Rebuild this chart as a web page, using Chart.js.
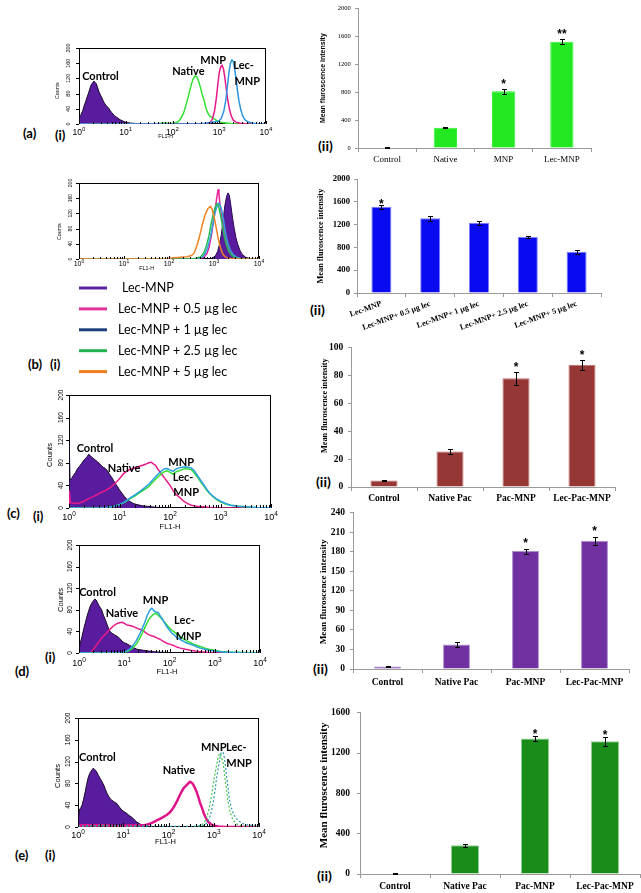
<!DOCTYPE html>
<html><head><meta charset="utf-8">
<script src="https://cdn.jsdelivr.net/npm/chart.js@4.4.1/dist/chart.umd.min.js"></script>
<style>
html,body{margin:0;padding:0;background:#fff;}
body{width:641px;height:893px;position:relative;overflow:hidden;}
canvas{position:absolute;}
.lab{position:absolute;font-family:Lato,"Open Sans",sans-serif;font-weight:bold;font-size:13px;line-height:13px;color:#000;white-space:nowrap;}
</style></head><body>
<div class="lab" style="left:23px;top:127px">(a)</div>
<div class="lab" style="left:55px;top:129px">(i)</div>
<div class="lab" style="left:318px;top:139px;font-size:14px">(ii)</div>
<div class="lab" style="left:28px;top:358px">(b)</div>
<div class="lab" style="left:50px;top:358px">(i)</div>
<div class="lab" style="left:310px;top:303px;font-size:14px">(ii)</div>
<div class="lab" style="left:7px;top:507px">(c)</div>
<div class="lab" style="left:33px;top:510px">(i)</div>
<div class="lab" style="left:316px;top:475px;font-size:14px">(ii)</div>
<div class="lab" style="left:15px;top:665px">(d)</div>
<div class="lab" style="left:45px;top:651px">(i)</div>
<div class="lab" style="left:313px;top:662px;font-size:14px">(ii)</div>
<div class="lab" style="left:15px;top:849px">(e)</div>
<div class="lab" style="left:45px;top:849px">(i)</div>
<div class="lab" style="left:317px;top:869px;font-size:14px">(ii)</div>
<script>
// ---------- axis tick definitions ----------
const DECADE_TICKS = [0, 1, 2, 3, 4];
const LOG_MINOR = [0.301, 0.477, 0.602, 0.699, 0.778, 0.845, 0.903, 0.954];
const COUNT_TICKS = [0, 40, 80, 120, 160, 200];
const HIST_X_TITLE = 'FL1-H';
const HIST_Y_TITLE = 'Counts';
const BAR_Y_TITLE = 'Mean fluroscence intensity';

// ---------- histogram data: [log10(FL1-H), counts] ----------
const A_CONTROL = [[0,0],[0.01,20],[0.04,24],[0.08,35],[0.11,48],[0.14,58],[0.17,70],[0.2,80],[0.23,92],[0.26,103],[0.29,108],[0.32,113],[0.34,110],[0.37,106],[0.4,95],[0.43,84],[0.46,76],[0.49,69],[0.52,60],[0.55,54],[0.58,49],[0.61,45],[0.64,41],[0.67,35],[0.7,30],[0.73,26],[0.76,22],[0.8,18],[0.84,15],[0.88,11],[0.92,9],[0.97,6],[1.02,4],[1.1,2.5],[1.2,1.5],[1.35,0.5],[1.5,0],[4,0]];
const A_NATIVE = [[0,0],[1.6,0],[1.75,2],[1.85,3],[1.95,1],[2.05,3],[2.12,6],[2.18,15],[2.24,30],[2.3,55],[2.35,78],[2.4,103],[2.44,118],[2.48,127],[2.52,124],[2.56,112],[2.6,95],[2.64,76],[2.68,60],[2.72,40],[2.76,28],[2.8,20],[2.85,17],[2.9,13],[2.95,9],[3.0,6],[3.1,3],[3.25,1],[3.4,0],[4,0]];
const A_MNP = [[0,0],[2.75,0],[2.8,3],[2.85,12],[2.9,35],[2.94,70],[2.97,105],[3.0,135],[3.03,150],[3.06,155],[3.09,145],[3.12,122],[3.15,92],[3.18,65],[3.22,38],[3.26,20],[3.3,10],[3.36,5],[3.45,2],[3.6,0],[4,0]];
const A_LECMNP = [[0,0],[2.6,0],[2.7,2],[2.8,4],[2.9,6],[2.98,7],[3.04,14],[3.1,35],[3.14,62],[3.18,105],[3.21,138],[3.24,160],[3.27,169],[3.3,164],[3.33,145],[3.36,118],[3.39,88],[3.42,62],[3.46,38],[3.5,22],[3.55,11],[3.62,5],[3.72,2],[3.85,0],[4,0]];

const B_SERIES = ['Lec-MNP', 'Lec-MNP + 0.5 \u00b5g lec', 'Lec-MNP + 1 \u00b5g lec', 'Lec-MNP + 2.5 \u00b5g lec', 'Lec-MNP + 5 \u00b5g lec'];
const B_LEC = [[0,0],[2.9,0],[2.97,3],[3.03,8],[3.08,20],[3.12,38],[3.16,62],[3.2,100],[3.24,140],[3.28,165],[3.31,174],[3.34,168],[3.37,145],[3.41,110],[3.45,80],[3.49,55],[3.53,38],[3.58,22],[3.63,12],[3.7,5],[3.8,1],[3.9,0],[4,0]];
const B_LEC05 = [[0,0],[2.6,0],[2.7,2],[2.78,5],[2.84,14],[2.89,30],[2.94,60],[2.98,92],[3.02,125],[3.06,160],[3.09,182],[3.11,170],[3.14,137],[3.18,105],[3.22,75],[3.26,50],[3.3,33],[3.35,18],[3.42,8],[3.5,3],[3.6,0],[4,0]];
const B_LEC1 = [[0,0],[2.55,0],[2.65,2],[2.74,5],[2.8,14],[2.86,30],[2.92,58],[2.97,88],[3.02,120],[3.07,140],[3.11,147],[3.15,138],[3.19,118],[3.23,88],[3.27,60],[3.31,40],[3.36,24],[3.42,12],[3.5,5],[3.6,1],[3.7,0],[4,0]];
const B_LEC25 = [[0,0],[2.5,0],[2.6,2],[2.7,5],[2.77,15],[2.83,34],[2.89,62],[2.94,95],[2.99,122],[3.04,140],[3.07,146],[3.11,136],[3.15,112],[3.19,85],[3.23,60],[3.28,36],[3.33,20],[3.4,9],[3.48,3],[3.6,0],[4,0]];
const B_LEC5 = [[0,0],[1.9,0],[2.0,2],[2.1,3],[2.2,4],[2.3,5],[2.4,6],[2.5,9],[2.56,16],[2.62,35],[2.68,60],[2.74,90],[2.8,115],[2.86,132],[2.92,139],[2.96,130],[3.0,112],[3.04,88],[3.08,62],[3.12,40],[3.16,24],[3.2,12],[3.26,5],[3.35,1],[3.45,0],[4,0]];

const C_CONTROL = [[0,0],[0.005,115],[0.02,50],[0.05,52],[0.09,58],[0.13,63],[0.17,70],[0.21,74],[0.25,79],[0.29,84],[0.33,88],[0.36,91],[0.39,95],[0.42,93],[0.45,90],[0.48,88],[0.52,85],[0.56,82],[0.6,79],[0.64,75],[0.68,72],[0.72,70],[0.76,66],[0.8,60],[0.84,55],[0.88,49],[0.92,43],[0.96,38],[1.0,32],[1.05,26],[1.1,20],[1.15,15],[1.2,12],[1.27,8],[1.35,6],[1.45,4],[1.55,3],[1.7,1.5],[1.85,0.5],[2.0,0],[4,0]];
const C_NATIVE = [[0,0],[0.005,30],[0.03,10],[0.1,8],[0.2,9],[0.3,12],[0.4,17],[0.5,21],[0.6,26],[0.7,30],[0.8,35],[0.88,41],[0.95,47],[1.02,54],[1.08,61],[1.14,65],[1.2,68],[1.27,70],[1.34,72],[1.4,74],[1.47,76],[1.53,78],[1.58,80],[1.63,81],[1.67,78],[1.71,76],[1.75,70],[1.8,64],[1.85,58],[1.9,52],[1.95,46],[2.0,40],[2.06,31],[2.12,24],[2.2,18],[2.27,12],[2.34,8],[2.42,5],[2.52,3],[2.65,2],[2.8,1],[2.95,0],[4,0]];
const C_MNP = [[0,0],[0.6,0],[0.75,1],[0.9,3],[1.0,6],[1.1,10],[1.2,16],[1.3,21],[1.4,27],[1.5,33],[1.58,38],[1.66,46],[1.74,53],[1.82,60],[1.88,64],[1.94,66],[2.0,63],[2.06,60],[2.12,64],[2.18,66],[2.24,68],[2.3,70],[2.36,69],[2.42,68],[2.48,62],[2.54,55],[2.6,47],[2.66,40],[2.72,32],[2.78,26],[2.85,20],[2.92,15],[3.0,11],[3.1,7],[3.2,5],[3.35,3],[3.5,2],[3.7,1],[4,0.5]];
const C_LECMNP = [[0,0],[0.6,0],[0.75,1],[0.9,3],[1.0,6],[1.1,11],[1.2,17],[1.3,23],[1.4,29],[1.5,36],[1.58,42],[1.66,50],[1.74,58],[1.82,65],[1.88,69],[1.94,70],[2.0,67],[2.06,65],[2.12,69],[2.18,71],[2.24,72],[2.3,73],[2.36,72],[2.42,71],[2.48,66],[2.54,58],[2.6,50],[2.66,42],[2.72,34],[2.78,27],[2.85,21],[2.92,16],[3.0,12],[3.1,8],[3.2,5],[3.35,3],[3.5,2],[3.7,1],[4,0.5]];

const D_CONTROL = [[0,0],[0.02,0],[0.025,18],[0.06,28],[0.1,43],[0.14,56],[0.17,66],[0.21,77],[0.24,85],[0.28,92],[0.32,97],[0.35,100],[0.38,98],[0.41,93],[0.44,88],[0.47,84],[0.5,80],[0.54,70],[0.58,62],[0.62,53],[0.65,46],[0.69,40],[0.72,37],[0.78,34],[0.84,31],[0.9,27],[0.95,22],[1.0,19],[1.06,17],[1.12,14],[1.17,12],[1.23,9],[1.28,7],[1.35,6],[1.43,5],[1.55,3.5],[1.65,2.5],[1.8,1.5],[1.95,1],[2.2,0],[4,0]];
const D_NATIVE = [[0,0],[0.25,0],[0.28,3],[0.33,8],[0.39,15],[0.45,22],[0.5,28],[0.56,33],[0.61,37],[0.66,42],[0.71,46],[0.76,50],[0.81,53],[0.85,55],[0.9,56],[0.95,57],[1.0,55],[1.06,52],[1.12,51],[1.17,50],[1.23,48],[1.28,46],[1.34,44],[1.39,43],[1.45,39],[1.5,36],[1.54,34],[1.6,32],[1.65,31],[1.72,28],[1.8,25],[1.87,21],[1.94,18],[2.02,16],[2.09,14],[2.16,11],[2.24,9],[2.35,7],[2.46,5],[2.57,3.5],[2.68,2.5],[2.85,1],[3.0,0],[4,0]];
const D_MNP = [[0,0],[0.85,0],[0.95,1],[1.05,4],[1.1,6],[1.15,10],[1.2,15],[1.26,22],[1.32,32],[1.38,42],[1.43,52],[1.47,60],[1.5,68],[1.54,75],[1.57,80],[1.61,83],[1.64,80],[1.67,77],[1.71,76],[1.76,74],[1.8,68],[1.83,65],[1.88,57],[1.94,49],[2.0,42],[2.05,37],[2.09,34],[2.16,29],[2.24,25],[2.32,21],[2.39,18],[2.47,16],[2.54,14],[2.61,11],[2.68,9],[2.78,7],[2.87,5],[3.0,3.5],[3.13,2.5],[3.3,1.5],[3.42,1],[3.6,0.5],[3.8,0],[4,0]];
const D_LECMNP = [[0,0],[0.9,0],[1.0,1],[1.1,4],[1.16,7],[1.22,12],[1.28,18],[1.34,27],[1.4,37],[1.45,46],[1.5,55],[1.55,63],[1.6,68],[1.65,72],[1.7,73],[1.75,70],[1.8,66],[1.86,60],[1.92,54],[1.98,48],[2.04,43],[2.09,40],[2.16,35],[2.24,30],[2.32,26],[2.39,22],[2.47,19],[2.54,16],[2.61,14],[2.68,12],[2.78,9],[2.87,7],[3.0,5],[3.13,3],[3.3,2],[3.5,1.5],[3.7,1],[3.9,0.5],[4,0]];

const E_CONTROL = [[0,0],[0.02,0],[0.025,31],[0.06,35],[0.09,40],[0.12,50],[0.16,65],[0.19,78],[0.23,92],[0.27,100],[0.31,105],[0.34,108],[0.36,106],[0.39,104],[0.42,100],[0.45,95],[0.49,89],[0.53,83],[0.57,77],[0.6,70],[0.64,62],[0.68,56],[0.72,51],[0.75,49],[0.8,46],[0.86,43],[0.91,37],[0.97,31],[1.02,28],[1.08,25],[1.13,21],[1.19,18],[1.25,13],[1.3,9],[1.36,6],[1.41,4],[1.5,2],[1.6,1],[1.8,0],[4,0]];
const E_NATIVE = [[0,0],[0.02,3],[0.3,3],[0.6,3],[0.9,2],[1.2,3],[1.45,3],[1.55,5],[1.62,7],[1.67,9],[1.74,12],[1.81,15],[1.88,18],[1.96,22],[2.02,26],[2.07,31],[2.12,37],[2.18,46],[2.23,55],[2.29,65],[2.34,72],[2.4,77],[2.44,80],[2.47,83],[2.5,82],[2.53,80],[2.57,74],[2.62,65],[2.66,55],[2.69,46],[2.74,35],[2.78,25],[2.83,16],[2.88,9],[2.94,5],[2.99,3],[3.1,1],[3.25,0],[4,0]];
const E_MNP = [[0,0],[2.6,0],[2.69,2],[2.75,5],[2.8,9],[2.84,17],[2.88,28],[2.92,42],[2.95,58],[2.99,78],[3.02,95],[3.06,112],[3.09,126],[3.12,133],[3.14,135],[3.17,128],[3.21,117],[3.24,95],[3.28,71],[3.31,50],[3.35,31],[3.39,20],[3.43,12],[3.5,6],[3.57,3],[3.7,1],[3.8,0],[4,0]];
const E_LECMNP = [[0,2],[0.5,3],[1.0,2],[1.5,2],[2.0,1],[2.5,1],[2.7,2],[2.8,3],[2.86,9],[2.91,18],[2.95,30],[2.99,46],[3.03,68],[3.06,89],[3.1,108],[3.13,123],[3.16,136],[3.18,142],[3.21,136],[3.23,129],[3.26,112],[3.28,95],[3.32,70],[3.35,49],[3.39,35],[3.43,25],[3.48,17],[3.54,12],[3.62,7],[3.72,4],[3.87,3],[4,2]];

// ---------- bar chart data ----------
const A_CATS = ['Control', 'Native', 'MNP', 'Lec-MNP'];
const A_VALUES = [8, 290, 812, 1520];
const A_ERRORS = [3, 9, 33, 38];
const A_SIG = ['', '', '*', '**'];

const B_CATS = ['Lec-MNP', 'Lec-MNP+ 0.5 \u00b5g lec', 'Lec-MNP+ 1 \u00b5g lec', 'Lec-MNP+ 2.5 \u00b5g lec', 'Lec-MNP+ 5 \u00b5g lec'];
const B_VALUES = [1516, 1314, 1233, 986, 726];
const B_ERRORS = [37, 46, 29, 23, 32];
const B_SIG = ['*', '', '', '', ''];

const PAC_CATS = ['Control', 'Native Pac', 'Pac-MNP', 'Lec-Pac-MNP'];
const C_VALUES = [4.6, 25.5, 77.9, 87.5];
const C_ERRORS = [0.5, 2, 4.7, 3.5];
const C_SIG = ['', '', '*', '*'];

const D_VALUES = [4, 37.5, 181, 197];
const D_ERRORS = [1, 4, 4, 6];
const D_SIG = ['', '', '*', '*'];

const E_VALUES = [6, 285, 1344, 1318];
const E_ERRORS = [3, 14, 28, 44];
const E_SIG = ['', '', '*', '*'];

// ---------- helpers ----------
function mk(b){
  const c = document.createElement('canvas');
  c.width = b.w; c.height = b.h;
  c.style.left = b.x + 'px'; c.style.top = b.y + 'px';
  c.style.width = b.w + 'px'; c.style.height = b.h + 'px';
  document.body.appendChild(c);
  return c;
}
const SANS = '"Liberation Sans", Arial, sans-serif';
const SERIF = '"Liberation Serif", "Times New Roman", serif';

function histDecor(s, box){
  return {
    id: 'histDecor',
    beforeDatasetsDraw(chart){
      const {ctx, chartArea: a} = chart;
      ctx.save(); ctx.strokeStyle = '#000'; ctx.lineWidth = 1;
      ctx.strokeRect(a.left + 0.5, a.top + 0.5, a.right - a.left - 1, a.bottom - a.top - 1);
      ctx.restore();
    },
    afterDatasetsDraw(chart){
      const {ctx, chartArea: a, scales: {x, y}} = chart;
      ctx.save();
      ctx.strokeStyle = '#000'; ctx.lineWidth = 1; ctx.beginPath();
      for (let d = 0; d < 4; d++) for (const m of LOG_MINOR){
        const px = Math.round(x.getPixelForValue(d + m)) + 0.5;
        ctx.moveTo(px, a.bottom); ctx.lineTo(px, a.bottom - s.minor);
      }
      for (const d of DECADE_TICKS){
        const px = Math.round(x.getPixelForValue(d)) + 0.5;
        ctx.moveTo(px, a.bottom); ctx.lineTo(px, a.bottom - s.major);
      }
      for (const v of COUNT_TICKS){
        const py = Math.round(y.getPixelForValue(v)) + 0.5;
        ctx.moveTo(a.left, py); ctx.lineTo(a.left - 3, py);
      }
      ctx.stroke();
      ctx.fillStyle = '#000'; ctx.textBaseline = 'middle';
      for (const d of DECADE_TICKS){
        const px = x.getPixelForValue(d), py = a.bottom + s.xLabDy;
        ctx.font = s.tickFont; const w1 = ctx.measureText('10').width;
        ctx.font = s.expFont; const w2 = ctx.measureText(String(d)).width;
        const x0 = px - (w1 + w2) / 2;
        ctx.textAlign = 'left';
        ctx.font = s.tickFont; ctx.fillText('10', x0, py);
        ctx.font = s.expFont; ctx.fillText(String(d), x0 + w1, py - s.expRise);
      }
      ctx.font = s.yFont; ctx.textAlign = 'center';
      for (const v of COUNT_TICKS){
        ctx.save(); ctx.translate(a.left - s.yLabOff, y.getPixelForValue(v)); ctx.rotate(-Math.PI / 2);
        ctx.fillText(String(v), 0, 0); ctx.restore();
      }
      ctx.font = s.titleFont;
      ctx.save(); ctx.translate(a.left + s.yTitle.dx, (a.top + a.bottom) / 2 + s.yTitle.dy); ctx.rotate(-Math.PI / 2);
      ctx.fillText(HIST_Y_TITLE, 0, 0); ctx.restore();
      ctx.fillText(HIST_X_TITLE, a.left + s.xTitle.dx, a.bottom + s.xTitle.dy);
      ctx.font = s.noteFont;
      for (const n of s.notes) ctx.fillText(n.t, x.getPixelForValue(n.x), y.getPixelForValue(n.y));
      if (s.legend){
        const L = s.legend;
        ctx.font = L.font; ctx.textAlign = 'left';
        chart.data.datasets.forEach((ds, i) => {
          const yy = L.y0 - box.y + i * L.dy;
          ctx.strokeStyle = L.colors[i]; ctx.lineWidth = L.lw;
          ctx.beginPath(); ctx.moveTo(L.x0 - box.x, yy); ctx.lineTo(L.x0 - box.x + L.len, yy); ctx.stroke();
          ctx.fillStyle = '#000'; ctx.fillText(ds.label, L.tx - box.x + (i === 0 ? 4 : 0), yy);
        });
      }
      ctx.restore();
    }
  };
}

function histChart(box, plot, datasets, s){
  const yW = plot.L - box.x, padT = plot.T - box.y, padR = box.x + box.w - plot.R, xH = box.y + box.h - plot.B;
  return new Chart(mk(box), {
    type: 'line',
    data: {datasets},
    options: {
      responsive: false, animation: false, events: [],
      layout: {padding: {left: 0, top: padT, right: padR, bottom: 0}},
      plugins: {legend: {display: false}, tooltip: {enabled: false}},
      elements: {point: {radius: 0}, line: {tension: 0, borderJoinStyle: 'round'}},
      scales: {
        x: {type: 'linear', min: 0, max: 4, ticks: {display: false}, grid: {display: false}, border: {display: false}, afterFit: sc => { sc.height = xH; }},
        y: {type: 'linear', min: 0, max: 200, ticks: {display: false, stepSize: 40}, grid: {display: false}, border: {display: false}, afterFit: sc => { sc.width = yW; }}
      }
    },
    plugins: [histDecor(s, box)]
  });
}

function line(label, data, color, o){
  return Object.assign({label, data, borderColor: color, backgroundColor: color, borderWidth: 1.5, fill: false, pointRadius: 0}, o || {});
}
const CONTROL_FILL = '#5a1c9e', CONTROL_EDGE = '#140826';
function controlSet(data, order){
  return {label: 'Control', data, borderColor: CONTROL_EDGE, backgroundColor: CONTROL_FILL, borderWidth: 1, fill: 'origin', pointRadius: 0, order};
}

const SMALL = {tickFont: '7px ' + SANS, expFont: '5px ' + SANS, expRise: 2.5, yFont: '5px ' + SANS, titleFont: '5.3px ' + SANS, minor: 2, major: 3, noteFont: 'bold 11px Lato, sans-serif'};
const LARGE = {tickFont: '9px ' + SANS, expFont: '6.5px ' + SANS, expRise: 3.5, yFont: '6.5px ' + SANS, titleFont: '7.5px ' + SANS, minor: 3, major: 4, noteFont: 'bold 11px Lato, sans-serif'};

// (a)(i)
histChart({x: 45, y: 38, w: 235, h: 110}, {L: 79, T: 48, R: 266, B: 124}, [
  controlSet(A_CONTROL, 4),
  line('Native', A_NATIVE, '#33e033', {order: 3}),
  line('MNP', A_MNP, '#e8198b', {order: 2}),
  line('Lec-MNP', A_LECMNP, '#2b95e0', {order: 1})
], Object.assign({}, SMALL, {tickFont: '8.5px ' + SANS, expFont: '6px ' + SANS, expRise: 3, yFont: '5.5px ' + SANS,
  xLabDy: 8.5, yLabOff: 10.5, yTitle: {dx: -21.5, dy: 4.7}, xTitle: {dx: 86.7, dy: 13},
  notes: [{t: 'Control', x: 0.46, y: 126}, {t: 'Native', x: 2.34, y: 139}, {t: 'MNP', x: 2.87, y: 168}, {t: 'Lec-', x: 3.52, y: 155}, {t: 'MNP', x: 3.6, y: 111}]}));

// (b)(i)
histChart({x: 45, y: 173, w: 230, h: 210}, {L: 79, T: 183, R: 259, B: 259}, [
  {label: B_SERIES[0], data: B_LEC, borderColor: '#2a0a50', backgroundColor: '#5a1c9e', borderWidth: 1, fill: 'origin', pointRadius: 0, order: 5},
  line(B_SERIES[1], B_LEC05, '#e8249a', {order: 4}),
  line(B_SERIES[2], B_LEC1, '#35a0df', {order: 3}),
  line(B_SERIES[3], B_LEC25, '#22bb55', {order: 2}),
  line(B_SERIES[4], B_LEC5, '#f08222', {order: 1})
], Object.assign({}, SMALL, {xLabDy: 4.8, yLabOff: 8.5, yTitle: {dx: -19.5, dy: 10.7}, xTitle: {dx: 67.7, dy: 9.8}, notes: [],
  legend: {x0: 79, len: 28, tx: 118, y0: 288, dy: 20.9, lw: 3, font: '12.5px Lato, sans-serif', colors: ['#5e22a4', '#e0339b', '#1f3f7f', '#22b24f', '#f07d1e']}}));

// (c)(i)
histChart({x: 38, y: 385, w: 247, h: 150}, {L: 69, T: 395, R: 271, B: 508}, [
  controlSet(C_CONTROL, 4),
  line('Native', C_NATIVE, '#e8198b', {order: 3}),
  line('MNP', C_MNP, '#33dd33', {order: 2}),
  line('Lec-MNP', C_LECMNP, '#2a9fe0', {order: 1})
], Object.assign({}, LARGE, {xLabDy: 9.5, yLabOff: 8, yTitle: {dx: -19.5, dy: 3.5}, xTitle: {dx: 101, dy: 19},
  notes: [{t: 'Control', x: 0.515, y: 105.7}, {t: 'Native', x: 1.09, y: 69.4}, {t: 'MNP', x: 2.22, y: 81.4}, {t: 'Lec-', x: 2.26, y: 54.9}, {t: 'MNP', x: 2.32, y: 27.4}]}));

// (d)(i)
histChart({x: 48, y: 535, w: 226, h: 145}, {L: 79, T: 545, R: 260, B: 653}, [
  controlSet(D_CONTROL, 4),
  line('Native', D_NATIVE, '#e8198b', {order: 3}),
  line('Lec-MNP', D_LECMNP, '#33dd33', {order: 2}),
  line('MNP', D_MNP, '#2a9fe0', {order: 1})
], Object.assign({}, LARGE, {xLabDy: 11, yLabOff: 9, yTitle: {dx: -18, dy: 1}, xTitle: {dx: 88, dy: 19},
  notes: [{t: 'Control', x: 0.41, y: 112}, {t: 'Native', x: 0.95, y: 74}, {t: 'MNP', x: 1.69, y: 96.7}, {t: 'Lec-', x: 2.33, y: 61}, {t: 'MNP', x: 2.42, y: 31}]}));

// (e)(i)
histChart({x: 45, y: 708, w: 228, h: 155}, {L: 78, T: 718, R: 259, B: 827}, [
  controlSet(E_CONTROL, 4),
  line('Native', E_NATIVE, '#e0148a', {order: 3, borderWidth: 2.5}),
  line('MNP', E_MNP, '#3fc43f', {order: 2, borderWidth: 1.2, borderDash: [2, 2]}),
  line('Lec-MNP', E_LECMNP, '#2a98a8', {order: 1, borderWidth: 1.2, borderDash: [2, 2]})
], Object.assign({}, LARGE, {xLabDy: 8.7, yLabOff: 10, yTitle: {dx: -20, dy: 3.5}, xTitle: {dx: 87.5, dy: 15},
  notes: [{t: 'Control', x: 0.43, y: 127}, {t: 'Native', x: 2.23, y: 103.7}, {t: 'MNP', x: 3.0, y: 145.9}, {t: 'Lec-', x: 3.5, y: 145.9}, {t: 'MNP', x: 3.56, y: 117.4}]}));

// ---------- bar charts ----------
function barDecor(s, box){
  return {
    id: 'barDecor',
    afterDatasetsDraw(chart){
      const {ctx, chartArea: a, scales: {y}} = chart;
      const ds = chart.data.datasets[0];
      const meta = chart.getDatasetMeta(0);
      ctx.save(); ctx.strokeStyle = '#000'; ctx.fillStyle = '#000'; ctx.lineWidth = 1;
      meta.data.forEach((bar, i) => {
        const v = ds.data[i], e = s.err[i];
        const xx = Math.round(bar.x) + 0.5;
        const t = Math.round(y.getPixelForValue(v + e)) + 0.5;
        const b = Math.round(y.getPixelForValue(Math.max(0, v - e))) + 0.5;
        ctx.beginPath();
        ctx.moveTo(xx, t); ctx.lineTo(xx, b);
        ctx.moveTo(xx - s.cap, t); ctx.lineTo(xx + s.cap, t);
        ctx.moveTo(xx - s.cap, b); ctx.lineTo(xx + s.cap, b);
        ctx.stroke();
        if (s.sig[i]){
          ctx.font = s.starFont; ctx.textAlign = 'center'; ctx.textBaseline = 'alphabetic';
          ctx.fillText(s.sig[i], bar.x, t - s.starGap);
        }
      });
      ctx.font = s.titleFont; ctx.textAlign = 'center'; ctx.textBaseline = 'middle';
      ctx.save(); ctx.translate(s.titleX - box.x, (a.top + a.bottom) / 2 + s.titleDy); ctx.rotate(-Math.PI / 2);
      ctx.fillText(BAR_Y_TITLE, 0, 0); ctx.restore();
      ctx.restore();
    }
  };
}

function barChart(box, plot, cats, vals, o){
  const yW = plot.L - box.x, padT = plot.T - box.y, padR = box.x + box.w - plot.R, xH = box.y + box.h - plot.B;
  return new Chart(mk(box), {
    type: 'bar',
    data: {labels: cats, datasets: [{data: vals, backgroundColor: o.color, borderColor: o.edge, borderWidth: 1, barPercentage: o.bar, categoryPercentage: 1}]},
    options: {
      responsive: false, animation: false, events: [],
      layout: {padding: {left: 0, top: padT, right: padR, bottom: 0}},
      plugins: {legend: {display: false}, tooltip: {enabled: false}},
      scales: {
        x: {grid: {display: true, drawOnChartArea: false, offset: true, tickLength: 4, color: '#9a9a9a'}, border: {color: '#9a9a9a'},
            ticks: {font: o.catFont, color: '#000', padding: o.catPad, autoSkip: false, minRotation: o.rot, maxRotation: o.rot},
            afterFit: sc => { sc.height = xH; }},
        y: {min: 0, max: o.max, ticks: {stepSize: o.step, font: o.tickFont, color: '#000', padding: o.tickPad, callback: v => String(v)},
            grid: {display: true, drawOnChartArea: false, tickLength: 3, color: '#9a9a9a'}, border: {color: '#9a9a9a'},
            afterFit: sc => { sc.width = yW; }}
      }
    },
    plugins: [barDecor({err: o.err, sig: o.sig, cap: 2.5, starFont: 'bold 12px ' + SANS, starGap: o.starGap, titleFont: o.titleFont, titleX: o.titleX, titleDy: o.titleDy}, box)]
  });
}

// (a)(ii)
barChart({x: 312, y: 0, w: 289, h: 170}, {L: 358, T: 6, R: 591, B: 148}, A_CATS, A_VALUES, {
  color: '#22e822', edge: '#3cf03c', bar: 0.4, max: 2000, step: 400, err: A_ERRORS, sig: A_SIG, starGap: 1.7,
  catFont: {family: SERIF, size: 9}, catPad: 2.6, rot: 0, tickFont: {family: SERIF, size: 6.5}, tickPad: 4.3,
  titleFont: 'bold 7px ' + SANS, titleX: 323, titleDy: 0});

// (b)(ii)
barChart({x: 312, y: 170, w: 299, h: 175}, {L: 357, T: 178, R: 601, B: 293}, B_CATS, B_VALUES, {
  color: '#0a0af0', edge: '#7d7dff', bar: 0.41, max: 2000, step: 400, err: B_ERRORS, sig: B_SIG, starGap: -2,
  catFont: {family: SERIF, size: 8, weight: 'bold'}, catPad: 2, rot: 20, tickFont: {family: SERIF, size: 8.7, weight: 'bold'}, tickPad: 4,
  titleFont: 'bold 8.3px ' + SERIF, titleX: 321, titleDy: 0});

// (c)(ii)
barChart({x: 312, y: 337, w: 313, h: 170}, {L: 351, T: 345, R: 615, B: 487}, PAC_CATS, C_VALUES, {
  color: '#953735', edge: '#c27270', bar: 0.41, max: 100, step: 20, err: C_ERRORS, sig: C_SIG, starGap: 1.3,
  catFont: {family: SERIF, size: 9.5, weight: 'bold'}, catPad: 1.6, rot: 0, tickFont: {family: SERIF, size: 9.5, weight: 'bold'}, tickPad: 4.7,
  titleFont: 'bold 8.3px ' + SERIF, titleX: 325, titleDy: -11.5});

// (d)(ii)
barChart({x: 312, y: 502, w: 325, h: 193}, {L: 353, T: 510, R: 629, B: 669}, PAC_CATS, D_VALUES, {
  color: '#7030a0', edge: '#ad8fd0', bar: 0.39, max: 240, step: 30, err: D_ERRORS, sig: D_SIG, starGap: 3,
  catFont: {family: SERIF, size: 9.5, weight: 'bold'}, catPad: 4.3, rot: 0, tickFont: {family: SERIF, size: 9.5, weight: 'bold'}, tickPad: 5,
  titleFont: 'bold 9.2px ' + SERIF, titleX: 324, titleDy: 1});

// (e)(ii)
barChart({x: 312, y: 700, w: 329, h: 193}, {L: 360, T: 709, R: 640, B: 874}, PAC_CATS, E_VALUES, {
  color: '#1a8c1a', edge: '#8fd08f', bar: 0.4, max: 1600, step: 400, err: E_ERRORS, sig: E_SIG, starGap: -1,
  catFont: {family: SERIF, size: 9.5, weight: 'bold'}, catPad: 3, rot: 0, tickFont: {family: SERIF, size: 9.5, weight: 'bold'}, tickPad: 7,
  titleFont: 'bold 11px ' + SERIF, titleX: 324, titleDy: -8});
</script>
</body></html>
